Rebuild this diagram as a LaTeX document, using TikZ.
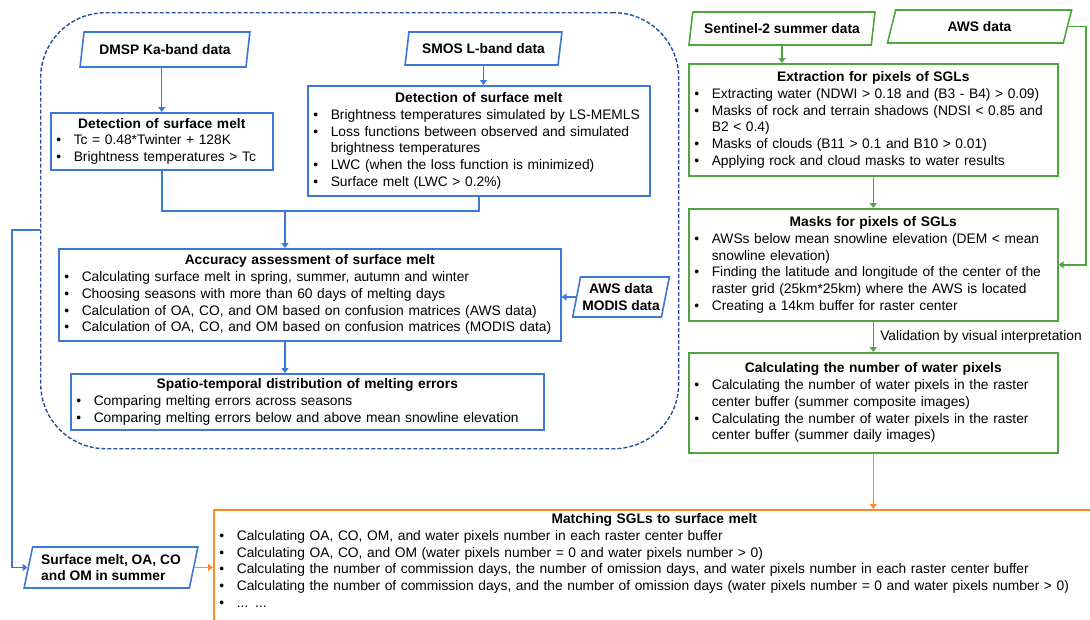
\documentclass[tikz,border=0pt]{standalone}
\usepackage{fontspec}
\setmainfont{Liberation Sans}
\usepackage{tikz}
\usetikzlibrary{arrows.meta,shapes.geometric}
\usepackage{xcolor}
\definecolor{flowBlue}{RGB}{60,120,216}
\definecolor{flowDarkBlue}{RGB}{30,82,160}
\definecolor{flowGreen}{RGB}{76,168,60}
\definecolor{flowOrange}{RGB}{255,138,42}
\hyphenpenalty=10000
\newcommand{\boxtitle}[1]{{\centering\bfseries #1\par}}
\newcommand{\itm}[1]{\hangindent=20pt\hangafter=1\noindent\makebox[20pt][l]{\hspace{2.5pt}\textbullet}#1\par}

\begin{document}
\begin{tikzpicture}[x=1pt, y=-1pt, line width=1.6pt,
  box/.style={draw, line width=1.6pt, rectangle, anchor=north west, inner xsep=3pt, inner ysep=2pt, align=left,
    font=\fontsize{13.8}{16.7}\selectfont},
  data/.style={draw, line width=1.6pt, trapezium, trapezium left angle=75, trapezium right angle=105,
    trapezium stretches=true, inner sep=1pt, font=\fontsize{13.8}{16.7}\selectfont\bfseries},
  arr/.style={line width=1.3pt, -{Triangle[length=5pt,width=7pt]}}]
  \useasboundingbox (0,0) rectangle (1090,619);
  \clip (0,0) rectangle (1090,619);

  % passive microwave part
  \node[draw=flowDarkBlue, line width=1.4pt, dash pattern=on 4pt off 2pt, rounded corners=65pt,
    minimum width=638pt, minimum height=436pt, anchor=north west] (region) at (40,12) {};
  \node[data, draw=flowBlue, minimum width=170pt, minimum height=35pt] (dmsp) at (165,49.5) {DMSP Ka-band data};
  \node[data, draw=flowBlue, minimum width=157pt, minimum height=33pt] (smos) at (483.5,48.5) {SMOS L-band data};
  \node[box, draw=flowBlue, text width=216pt, minimum height=57pt] (det1) at (50,112) {\boxtitle{Detection of surface melt}%
    \itm{Tc = 0.48*Twinter + 128K}\itm{Brightness temperatures > Tc}};
  \node[box, draw=flowBlue, text width=336pt, minimum height=110pt] (det2) at (307,85) {\boxtitle{Detection of surface melt}%
    \itm{Brightness temperatures simulated by LS-MEMLS}%
    \itm{Loss functions between observed and simulated brightness temperatures}%
    \itm{LWC (when the loss function is minimized)}\itm{Surface melt (LWC > 0.2\%)}};
  \node[box, draw=flowBlue, text width=496pt, minimum height=92pt] (acc) at (58,248) {\boxtitle{Accuracy assessment of surface melt}%
    \itm{Calculating surface melt in spring, summer, autumn and winter}%
    \itm{Choosing seasons with more than 60 days of melting days}%
    \itm{Calculation of OA, CO, and OM based on confusion matrices (AWS data)}%
    \itm{Calculation of OA, CO, and OM based on confusion matrices (MODIS data)}};
  \node[data, draw=flowBlue, align=center, minimum width=97pt, minimum height=40pt] (awsmod) at (621,297) {AWS data\\MODIS data};
  \node[box, draw=flowBlue, text width=467pt, minimum height=56pt] (spat) at (70,373) {\boxtitle{Spatio-temporal distribution of melting errors}%
    \itm{Comparing melting errors across seasons}%
    \itm{Comparing melting errors below and above mean snowline elevation}};

  % optical part
  \node[data, draw=flowGreen, minimum width=186pt, minimum height=33pt] (senti) at (782,28.5) {Sentinel-2 summer data};
  \node[data, draw=flowGreen, minimum width=185pt, minimum height=33pt] (aws) at (979.5,26.5) {AWS data};
  \node[box, draw=flowGreen, text width=363pt, minimum height=112pt] (ext) at (688,63) {\boxtitle{Extraction for pixels of SGLs}%
    \itm{Extracting water (NDWI > 0.18 and (B3 - B4) > 0.09)}%
    \itm{Masks of rock and terrain shadows (NDSI < 0.85 and B2 < 0.4)}%
    \itm{Masks of clouds (B11 > 0.1 and B10 > 0.01)}%
    \itm{Applying rock and cloud masks to water results}};
  \node[box, draw=flowGreen, text width=363pt, minimum height=112pt] (masks) at (688,208) {\boxtitle{Masks for pixels of SGLs}%
    \itm{AWSs below mean snowline elevation (DEM < mean snowline elevation)}%
    \itm{Finding the latitude and longitude of the center of the raster grid (25km*25km) where the AWS is located}%
    \itm{Creating a 14km buffer for raster center}};
  \node[box, draw=flowGreen, text width=363pt, minimum height=100pt] (calc) at (688,352) {\boxtitle{Calculating the number of water pixels}%
    \itm{Calculating the number of water pixels in the raster center buffer (summer composite images)}%
    \itm{Calculating the number of water pixels in the raster center buffer (summer daily images)}};

  % matching
  \node[data, draw=flowBlue, align=left, minimum width=174pt, minimum height=41pt] (summ) at (111,567.5) {Surface melt, OA, CO\\and OM in summer};
  \node[box, draw=flowOrange, inner ysep=4pt, text width=875pt, text depth=110pt] (match) at (213,509) {\boxtitle{Matching SGLs to surface melt}%
    \itm{Calculating OA, CO, OM, and water pixels number in each raster center buffer}%
    \itm{Calculating OA, CO, and OM (water pixels number = 0 and water pixels number > 0)}%
    \itm{Calculating the number of commission days, the number of omission days, and water pixels number in each raster center buffer}%
    \itm{Calculating the number of commission days, and the number of omission days (water pixels number = 0 and water pixels number > 0)}%
    \itm{... ...}};

  \coordinate (merge) at (285,211);
  \draw[arr, flowBlue] (det1.north |- dmsp.south) -- (det1.north);
  \draw[arr, flowBlue] (smos.south) -- (smos.south |- det2.north);
  \draw[flowBlue] (det1.south) |- (merge) -| (det2.south);
  \draw[arr, flowBlue] (merge) -- (merge |- acc.north);
  \draw[arr, flowBlue] (merge |- acc.south) -- (merge |- spat.north);
  \draw[arr, flowBlue] (awsmod.west) -- (awsmod.west -| acc.east);
  \draw[arr, flowBlue, line width=1.6pt] (region.west |- 0,230) -- ++(-28,0) |- (summ.west);

  \draw[arr, flowGreen] (senti.south) -- (senti.south |- ext.north);
  \draw[arr, flowGreen] (ext.south) -- (masks.north);
  \draw[arr, flowGreen, line width=1.6pt] (aws.east) -- ++(18,0) |- (masks.east);
  \draw[arr, flowGreen] (masks.south) -- node[right, xshift=3pt, text=black, font=\fontsize{13.8}{16.7}\selectfont] {Validation by visual interpretation} (calc.north);

  \draw[arr, flowOrange] (calc.south) -- (calc.south |- match.north);
  \draw[arr, flowOrange] (summ.east) -- (summ.east -| match.west);
\end{tikzpicture}
\end{document}
